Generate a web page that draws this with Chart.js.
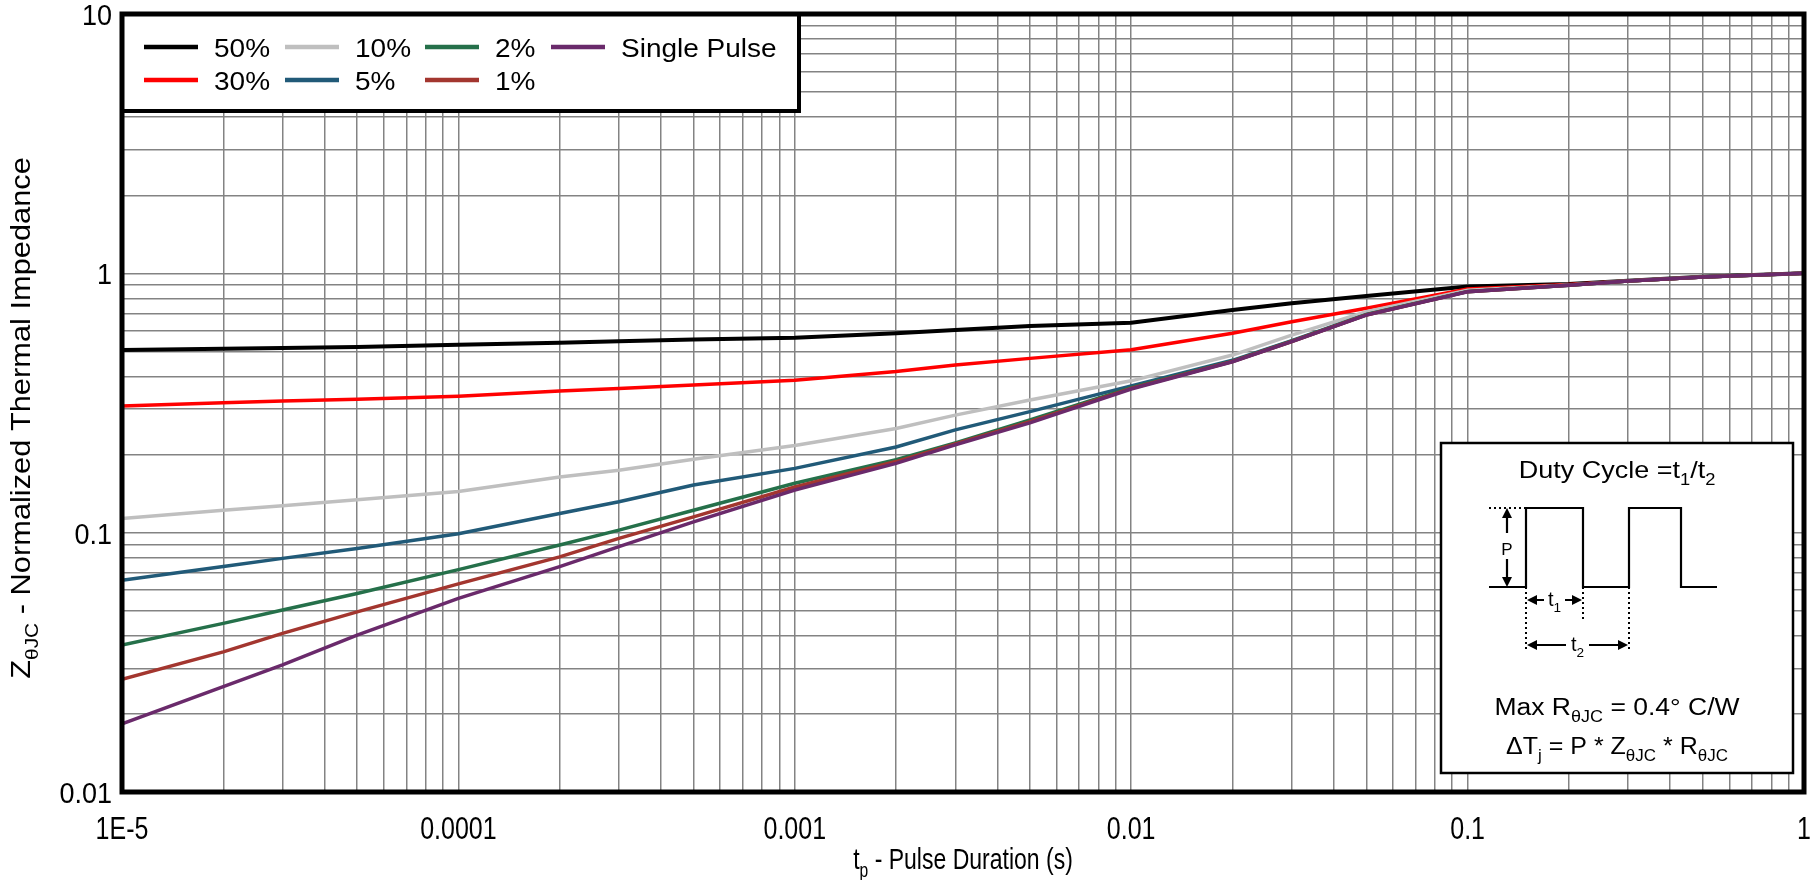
<!DOCTYPE html>
<html>
<head>
<meta charset="utf-8">
<script src="https://cdn.jsdelivr.net/npm/chart.js@4.4.1/dist/chart.umd.min.js"></script>
<style>
  html, body { margin: 0; padding: 0; background: #fff; }
</style>
</head>
<body>
<canvas id="myChart" width="1811" height="880"></canvas>
<script>
// pulse duration (s) and normalized Z for each duty cycle
const pulseTimes = [1e-5, 2e-5, 3e-5, 5e-5, 1e-4, 2e-4, 3e-4, 5e-4, 1e-3, 2e-3, 3e-3, 5e-3, 1e-2, 2e-2, 3e-2, 5e-2, 0.1, 0.2, 0.3, 0.5, 1];
const z50 = [0.506, 0.512, 0.515, 0.52, 0.53, 0.54, 0.547, 0.556, 0.565, 0.587, 0.604, 0.626, 0.645, 0.722, 0.766, 0.818, 0.89, 0.91, 0.936, 0.97, 1.0];
const z30 = [0.308, 0.317, 0.322, 0.327, 0.336, 0.352, 0.36, 0.371, 0.387, 0.418, 0.443, 0.47, 0.507, 0.587, 0.651, 0.733, 0.87, 0.905, 0.935, 0.968, 1.0];
const z10 = [0.1135, 0.122, 0.127, 0.134, 0.144, 0.164, 0.174, 0.192, 0.217, 0.252, 0.284, 0.325, 0.385, 0.484, 0.578, 0.711, 0.86, 0.902, 0.934, 0.968, 1.0];
const z5 = [0.0656, 0.074, 0.0796, 0.0869, 0.099, 0.1186, 0.1315, 0.1527, 0.177, 0.214, 0.249, 0.293, 0.368, 0.462, 0.55, 0.695, 0.852, 0.9, 0.934, 0.968, 1.0];
const z2 = [0.0369, 0.0447, 0.0503, 0.0583, 0.072, 0.0896, 0.1023, 0.122, 0.155, 0.191, 0.222, 0.272, 0.362, 0.458, 0.547, 0.692, 0.85, 0.9, 0.934, 0.968, 1.0];
const z1 = [0.0272, 0.0347, 0.0409, 0.0495, 0.0635, 0.0807, 0.095, 0.115, 0.15, 0.188, 0.22, 0.268, 0.36, 0.457, 0.546, 0.691, 0.85, 0.9, 0.934, 0.968, 1.0];
const zSingle = [0.0183, 0.0255, 0.0309, 0.0403, 0.0558, 0.074, 0.0883, 0.11, 0.146, 0.185, 0.218, 0.265, 0.358, 0.456, 0.545, 0.69, 0.849, 0.9, 0.934, 0.968, 1.0];

const seriesLabels = ['50%', '30%', '10%', '5%', '2%', '1%', 'Single Pulse'];
const seriesColors = ['#000000', '#ff0000', '#bfbfbf', '#215a78', '#25704a', '#a3362f', '#6a2a6b'];
const seriesData = [z50, z30, z10, z5, z2, z1, zSingle];

const xTickValues = [1e-5, 1e-4, 1e-3, 1e-2, 0.1, 1];
const xTickLabels = ['1E-5', '0.0001', '0.001', '0.01', '0.1', '1'];
const yTickValues = [0.01, 0.1, 1, 10];
const yTickLabels = ['0.01', '0.1', '1', '10'];

const FONT = "'Liberation Sans', Arial, sans-serif";

// grid at 1..9 of every decade
function decadeGrid(fromExp, toExp) {
  const out = [];
  for (let e = fromExp; e < toExp; e++) {
    for (let k = 1; k <= 9; k++) out.push(+(k * Math.pow(10, e)).toPrecision(6));
  }
  out.push(Math.pow(10, toExp));
  return out;
}
const xGrid = decadeGrid(-5, 0);
const yGrid = decadeGrid(-2, 1);

// text in pieces, some of them subscript; k stretches along the text height
function richText(ctx, parts, x, y, size, opts) {
  opts = opts || {};
  const k = opts.k || 1;
  const align = opts.align || 'left';
  const family = opts.family || FONT;
  ctx.save();
  ctx.translate(x, y);
  if (opts.rotate) {
    ctx.rotate(-Math.PI / 2);
    ctx.scale(k, 1);
  } else {
    ctx.scale(1, k);
  }
  ctx.fillStyle = '#000';
  ctx.textBaseline = 'alphabetic';
  ctx.textAlign = 'left';
  let total = 0;
  parts.forEach(p => {
    ctx.font = (p.sub ? size * 0.68 : size) + 'px ' + family;
    p.w = ctx.measureText(p.t).width;
    total += p.w;
  });
  let cx = align === 'center' ? -total / 2 : (align === 'right' ? -total : 0);
  parts.forEach(p => {
    ctx.font = (p.sub ? size * 0.68 : size) + 'px ' + family;
    ctx.fillText(p.t, cx, p.sub ? size * 0.28 : 0);
    cx += p.w;
  });
  ctx.restore();
}

function arrowHead(ctx, x, y, dir) {
  const L = 10, W = 5;
  ctx.beginPath();
  if (dir === 'up') { ctx.moveTo(x, y); ctx.lineTo(x - W, y + L); ctx.lineTo(x + W, y + L); }
  if (dir === 'down') { ctx.moveTo(x, y); ctx.lineTo(x - W, y - L); ctx.lineTo(x + W, y - L); }
  if (dir === 'left') { ctx.moveTo(x, y); ctx.lineTo(x + L, y - W); ctx.lineTo(x + L, y + W); }
  if (dir === 'right') { ctx.moveTo(x, y); ctx.lineTo(x - L, y - W); ctx.lineTo(x - L, y + W); }
  ctx.closePath();
  ctx.fill();
}

function dotted(ctx, x1, y1, x2, y2) {
  ctx.save();
  ctx.setLineDash([2, 3]);
  ctx.lineWidth = 2;
  ctx.beginPath();
  ctx.moveTo(x1, y1);
  ctx.lineTo(x2, y2);
  ctx.stroke();
  ctx.restore();
}

const decorPlugin = {
  id: 'decor',
  afterDraw(chart) {
    const ctx = chart.ctx;
    const ca = chart.chartArea;
    const xs = chart.scales.x, ys = chart.scales.y;

    // tick labels
    xTickValues.forEach((v, i) => {
      richText(ctx, [{ t: xTickLabels[i] }], xs.getPixelForValue(v), 839, 25, { k: 1.22, align: 'center' });
    });
    yTickValues.forEach((v, i) => {
      richText(ctx, [{ t: yTickLabels[i] }], ca.left - 10, ys.getPixelForValue(v) + 11, 27, { k: 1.1, align: 'right' });
    });

    // axis titles
    richText(ctx, [{ t: 't' }, { t: 'p', sub: true }, { t: ' - Pulse Duration (s)' }],
      (ca.left + ca.right) / 2, 869, 23, { k: 1.25, align: 'center' });
    richText(ctx, [{ t: 'Z' }, { t: 'θJC', sub: true }, { t: ' - Normalized Thermal Impedance' }],
      30, 418, 28, { k: 1.1, align: 'center', rotate: true });

    // legend box, columns filled top to bottom
    const lx = ca.left, ly = ca.top;
    ctx.save();
    ctx.fillStyle = '#fff';
    ctx.fillRect(lx, ly, 677, 97);
    ctx.strokeStyle = '#000';
    ctx.lineWidth = 4;
    ctx.strokeRect(lx, ly, 677, 97);
    const colX = [22, 163, 303, 429];
    const rowY = [33, 66];
    seriesLabels.forEach((lab, i) => {
      const c = Math.floor(i / 2), r = i % 2;
      const x0 = lx + colX[c], y0 = ly + rowY[r];
      ctx.strokeStyle = seriesColors[i];
      ctx.lineWidth = 4.5;
      ctx.beginPath();
      ctx.moveTo(x0, y0);
      ctx.lineTo(x0 + 54, y0);
      ctx.stroke();
      richText(ctx, [{ t: lab }], x0 + 70, y0 + 9.5, 28, { k: 0.95 });
    });
    ctx.restore();

    // duty cycle inset
    const bw = 352, bh = 330;
    const bx = ca.right - 11 - bw, by = ca.bottom - 19 - bh;
    ctx.save();
    ctx.fillStyle = '#fff';
    ctx.fillRect(bx, by, bw, bh);
    ctx.strokeStyle = '#000';
    ctx.lineWidth = 2.5;
    ctx.strokeRect(bx, by, bw, bh);
    ctx.fillStyle = '#000';

    richText(ctx, [{ t: 'Duty Cycle =t' }, { t: '1', sub: true }, { t: '/t' }, { t: '2', sub: true }],
      bx + bw / 2, by + 35, 27, { k: 0.9, align: 'center' });

    const hi = by + 65, lo = by + 144;
    const wx = [48, 85, 142, 188, 240, 276].map(v => bx + v);
    ctx.lineWidth = 2.2;
    ctx.beginPath();
    ctx.moveTo(wx[0], lo);
    ctx.lineTo(wx[1], lo); ctx.lineTo(wx[1], hi); ctx.lineTo(wx[2], hi); ctx.lineTo(wx[2], lo);
    ctx.lineTo(wx[3], lo); ctx.lineTo(wx[3], hi); ctx.lineTo(wx[4], hi); ctx.lineTo(wx[4], lo);
    ctx.lineTo(wx[5], lo);
    ctx.stroke();
    dotted(ctx, wx[0], hi, wx[1], hi);

    // P arrow
    const px = bx + 66;
    ctx.beginPath();
    ctx.moveTo(px, hi + 8); ctx.lineTo(px, hi + 25);
    ctx.moveTo(px, lo - 28); ctx.lineTo(px, lo - 8);
    ctx.stroke();
    arrowHead(ctx, px, hi, 'up');
    arrowHead(ctx, px, lo, 'down');
    richText(ctx, [{ t: 'P' }], px, by + 112, 17, { align: 'center' });

    // t1 and t2 spans
    dotted(ctx, wx[1], lo, wx[1], by + 206);
    dotted(ctx, wx[2], lo, wx[2], by + 176);
    dotted(ctx, wx[3], lo, wx[3], by + 206);
    const t1y = by + 157, t2y = by + 202;
    ctx.beginPath();
    ctx.moveTo(wx[1] + 8, t1y); ctx.lineTo(wx[1] + 18, t1y);
    ctx.moveTo(wx[2] - 18, t1y); ctx.lineTo(wx[2] - 8, t1y);
    ctx.moveTo(wx[1] + 8, t2y); ctx.lineTo(wx[1] + 40, t2y);
    ctx.moveTo(wx[3] - 40, t2y); ctx.lineTo(wx[3] - 8, t2y);
    ctx.stroke();
    arrowHead(ctx, wx[1] + 1, t1y, 'left');
    arrowHead(ctx, wx[2] - 1, t1y, 'right');
    arrowHead(ctx, wx[1] + 1, t2y, 'left');
    arrowHead(ctx, wx[3] - 1, t2y, 'right');
    richText(ctx, [{ t: 't' }, { t: '1', sub: true }], (wx[1] + wx[2]) / 2, t1y + 6, 20, { align: 'center' });
    richText(ctx, [{ t: 't' }, { t: '2', sub: true }], (wx[1] + wx[3]) / 2, t2y + 6, 20, { align: 'center' });

    richText(ctx, [{ t: 'Max R' }, { t: 'θJC', sub: true }, { t: ' = 0.4° C/W' }],
      bx + bw / 2, by + 272, 26.5, { k: 0.92, align: 'center' });
    richText(ctx, [{ t: 'ΔT' }, { t: 'j', sub: true }, { t: ' = P * Z' }, { t: 'θJC', sub: true }, { t: ' * R' }, { t: 'θJC', sub: true }],
      bx + bw / 2, by + 311, 25, { k: 0.95, align: 'center' });
    ctx.restore();

    // heavy frame round the plot
    ctx.save();
    ctx.strokeStyle = '#000';
    ctx.lineWidth = 5;
    ctx.strokeRect(ca.left, ca.top, ca.right - ca.left, ca.bottom - ca.top);
    ctx.restore();
  }
};

const ctx = document.getElementById('myChart');
const n = seriesLabels.length;
new Chart(ctx, {
  type: 'line',
  data: {
    datasets: seriesLabels.map((lab, i) => ({
      label: lab,
      data: pulseTimes.map((t, j) => ({ x: t, y: seriesData[i][j] })),
      borderColor: seriesColors[i],
      backgroundColor: seriesColors[i],
      borderWidth: i === 0 ? 4 : 3.5,
      pointRadius: 0,
      tension: 0,
      order: n - 1 - i
    }))
  },
  options: {
    responsive: false,
    animation: false,
    layout: { padding: { left: 122, right: 7, top: 14, bottom: 88 } },
    plugins: {
      legend: { display: false },
      tooltip: { enabled: false }
    },
    scales: {
      x: {
        type: 'logarithmic',
        min: 1e-5,
        max: 1,
        afterBuildTicks: s => { s.ticks = xGrid.map(v => ({ value: v })); },
        ticks: { display: false },
        grid: { color: '#838383', lineWidth: 1.5, drawTicks: false },
        border: { display: false }
      },
      y: {
        type: 'logarithmic',
        min: 0.01,
        max: 10,
        afterBuildTicks: s => { s.ticks = yGrid.map(v => ({ value: v })); },
        ticks: { display: false },
        grid: { color: '#838383', lineWidth: 1.5, drawTicks: false },
        border: { display: false }
      }
    }
  },
  plugins: [decorPlugin]
});
</script>
</body>
</html>
